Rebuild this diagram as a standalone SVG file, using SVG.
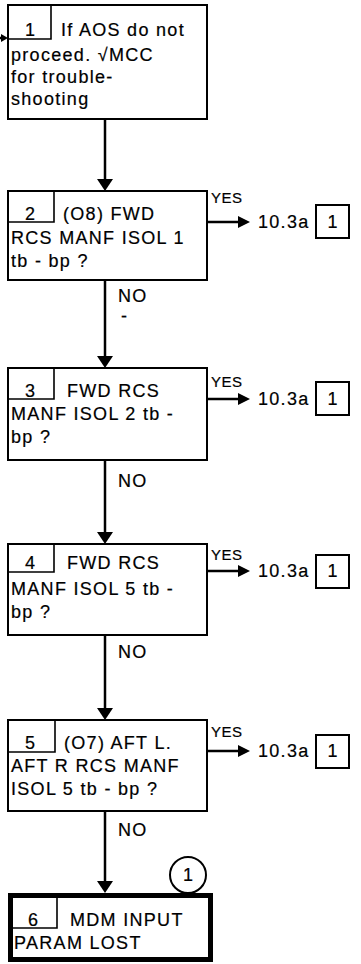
<svg xmlns="http://www.w3.org/2000/svg" width="361" height="964" viewBox="0 0 361 964">
<defs>
<style>
.bx{fill:#fff;stroke:#000;stroke-width:2}
.nb{fill:none;stroke:#000;stroke-width:1.6}
.thick{fill:#fff;stroke:#000;stroke-width:5}
.t{font-family:"Liberation Sans",Arial,sans-serif;font-size:18px;letter-spacing:1.3px;fill:#000;stroke:#000;stroke-width:0.2}
.n{font-family:"Liberation Sans",Arial,sans-serif;font-size:18px;fill:#000;stroke:#000;stroke-width:0.2;text-anchor:middle}
.y{font-family:"Liberation Sans",Arial,sans-serif;font-size:15px;letter-spacing:0.5px;fill:#000;stroke:#000;stroke-width:0.2}
.c{fill:none;stroke:#000;stroke-width:2.5}
</style>
<marker id="ah" viewBox="0 0 12 16" markerWidth="12" markerHeight="16" refX="2" refY="8" orient="auto" markerUnits="userSpaceOnUse"><path d="M0,0 L12,8 L0,16 z" fill="#000"/></marker>
<marker id="ahy" viewBox="0 0 12 12" markerWidth="12" markerHeight="12" refX="2" refY="6" orient="auto" markerUnits="userSpaceOnUse"><path d="M0,0 L12,6 L0,12 z" fill="#000"/></marker>
<marker id="ahs" viewBox="0 0 7 8" markerWidth="7" markerHeight="8" refX="1" refY="4" orient="auto" markerUnits="userSpaceOnUse"><path d="M0,0 L7,4 L0,8 z" fill="#000"/></marker>
</defs>
<rect width="361" height="964" fill="#fff"/>

<g id="connectors">
<path class="c" d="M0,38 H2" marker-end="url(#ahs)"/>
<path class="c" d="M105,119 V181" marker-end="url(#ah)"/>
<path class="c" d="M105,280 V358" marker-end="url(#ah)"/>
<path class="c" d="M105,460 V534" marker-end="url(#ah)"/>
<path class="c" d="M105,635 V710" marker-end="url(#ah)"/>
<path class="c" d="M105,811 V883" marker-end="url(#ah)"/>
<path class="c" d="M207,222 H240" marker-end="url(#ahy)"/>
<path class="c" d="M207,399 H240" marker-end="url(#ahy)"/>
<path class="c" d="M207,571 H240" marker-end="url(#ahy)"/>
<path class="c" d="M207,751 H240" marker-end="url(#ahy)"/>
<text class="y" x="211" y="203">YES</text>
<text class="y" x="211" y="387">YES</text>
<text class="y" x="211" y="560">YES</text>
<text class="y" x="211" y="737">YES</text>
<text class="t" x="118" y="302">NO</text>
<text class="t" x="121" y="322">-</text>
<text class="t" x="118" y="487">NO</text>
<text class="t" x="118" y="658">NO</text>
<text class="t" x="118" y="836">NO</text>
</g>

<g id="node1">
<rect class="bx" x="8" y="5" width="199" height="114"/>
<path class="nb" d="M8,39 H51 V5"/>
<text class="n" x="30" y="36">1</text>
<text class="t" x="61" y="36">If AOS do not</text>
<text class="t" x="11" y="61">proceed. √MCC</text>
<text class="t" x="11" y="83">for trouble-</text>
<text class="t" x="11" y="105">shooting</text>
</g>

<g id="node2">
<rect class="bx" x="8" y="191" width="199" height="89"/>
<path class="nb" d="M8,222 H54 V191"/>
<text class="n" x="30" y="220">2</text>
<text class="t" x="63" y="220">(O8) FWD</text>
<text class="t" x="11" y="244">RCS MANF ISOL 1</text>
<text class="t" x="11" y="267">tb - bp ?</text>
</g>
<g id="ref2">
<text class="t" x="258" y="228">10.3a</text>
<rect class="bx" x="316" y="205" width="33" height="33"/>
<text class="n" x="332.5" y="228">1</text>
</g>

<g id="node3">
<rect class="bx" x="8" y="368" width="199" height="92"/>
<path class="nb" d="M8,399 H54 V368"/>
<text class="n" x="30" y="397">3</text>
<text class="t" x="67" y="397">FWD RCS</text>
<text class="t" x="11" y="420">MANF ISOL 2 tb -</text>
<text class="t" x="11" y="443">bp ?</text>
</g>
<g id="ref3">
<text class="t" x="258" y="405">10.3a</text>
<rect class="bx" x="316" y="382" width="33" height="33"/>
<text class="n" x="332.5" y="405">1</text>
</g>

<g id="node4">
<rect class="bx" x="8" y="544" width="199" height="91"/>
<path class="nb" d="M8,572 H54 V544"/>
<text class="n" x="30" y="569">4</text>
<text class="t" x="67" y="569">FWD RCS</text>
<text class="t" x="11" y="595">MANF ISOL 5 tb -</text>
<text class="t" x="11" y="618">bp ?</text>
</g>
<g id="ref4">
<text class="t" x="258" y="577">10.3a</text>
<rect class="bx" x="316" y="555" width="33" height="33"/>
<text class="n" x="332.5" y="577">1</text>
</g>

<g id="node5">
<rect class="bx" x="8" y="720" width="199" height="91"/>
<path class="nb" d="M8,752 H55 V720"/>
<text class="n" x="30" y="749">5</text>
<text class="t" x="64" y="749">(O7) AFT L.</text>
<text class="t" x="11" y="772">AFT R RCS MANF</text>
<text class="t" x="11" y="795">ISOL 5 tb - bp ?</text>
</g>
<g id="ref5">
<text class="t" x="258" y="757">10.3a</text>
<rect class="bx" x="316" y="735" width="33" height="33"/>
<text class="n" x="332.5" y="757">1</text>
</g>

<g id="node6">
<rect class="thick" x="10.5" y="895.5" width="200" height="64"/>
<path class="nb" d="M13,928 H57 V898"/>
<text class="n" x="33" y="926">6</text>
<text class="t" x="70" y="926">MDM INPUT</text>
<text class="t" x="14" y="949">PARAM LOST</text>
<circle cx="188" cy="875" r="18" fill="#fff" stroke="#000" stroke-width="2"/>
<text class="n" x="188" y="881">1</text>
</g>
</svg>
